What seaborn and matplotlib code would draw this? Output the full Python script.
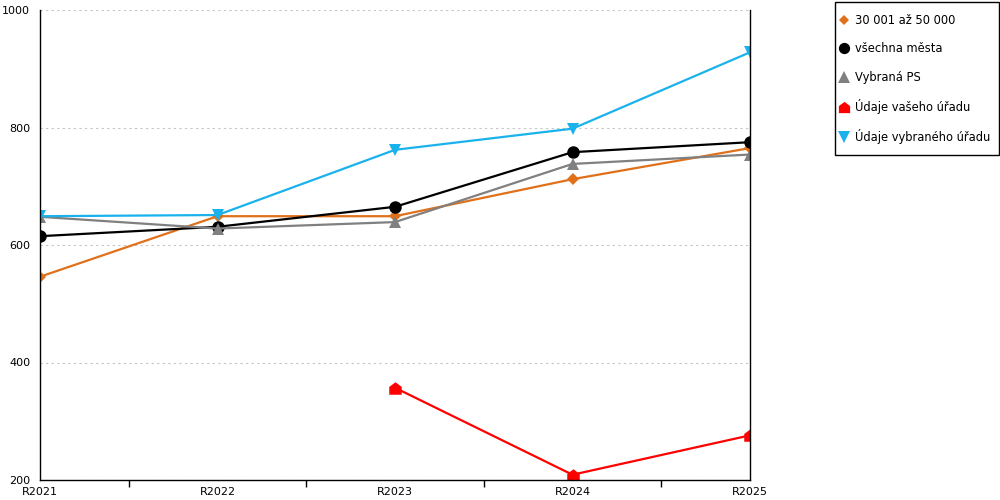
import matplotlib
matplotlib.use("Agg")
import matplotlib.pyplot as plt
import seaborn as sns
import pandas as pd
import numpy as np
from matplotlib.lines import Line2D
from matplotlib.path import Path
from matplotlib.patches import Rectangle

years = ["R2021", "R2022", "R2023", "R2024", "R2025"]
s_orange = [546, 649, 649, 712, 765]
s_black = [615, 631, 665, 758, 775]
s_gray = [648, 628, 639, 738, 754]
s_red = [np.nan, np.nan, 357, 209, 276]
s_blue = [649, 651, 762, 798, 928]

names = ["30 001 až 50 000", "všechna města", "Vybraná PS",
         "Údaje vašeho úřadu", "Údaje vybraného úřadu"]
series = [s_orange, s_black, s_gray, s_red, s_blue]
colors = ["#E0701A", "#000000", "#808080", "#FF0000", "#1AB2EC"]

house = Path([(-1, -1), (1, -1), (1, 0.25), (0, 1), (-1, 0.25), (-1, -1)],
             [Path.MOVETO, Path.LINETO, Path.LINETO, Path.LINETO, Path.LINETO, Path.CLOSEPOLY])
markers = ["D", "o", "^", house, "v"]
msizes = [6, 9, 9, 9, 9]

rows = []
for n, s in zip(names, series):
    for y, v in zip(years, s):
        rows.append({"rok": y, "hodnota": v, "serie": n})
df = pd.DataFrame(rows)

sns.set_theme(style="white")
plt.rcParams['font.family'] = ['DejaVu Sans']

fig = plt.figure(figsize=(10, 5), dpi=100)
ax = fig.add_axes([0.04, 0.04, 0.71, 0.94])

for n, c, m, ms in zip(names, colors, markers, msizes):
    d = df[df["serie"] == n].dropna()
    sns.lineplot(data=d, x="rok", y="hodnota", ax=ax, color=c, marker=m,
                 markersize=ms, markeredgewidth=0, linewidth=1.6,
                 sort=False, legend=False)

ax.set_xlim(0, 4)
ax.set_ylim(200, 1000)
ax.set_yticks([200, 400, 600, 800, 1000])
ax.set_xticks(range(5))
ax.set_xticklabels(years)
ax.set_xticks([0.5, 1.5, 2.5, 3.5], minor=True)
ax.set_xlabel("")
ax.set_ylabel("")
ax.grid(axis="y", color="#C4C4C4", linestyle=(0, (2, 3)), linewidth=0.8)
ax.grid(axis="x", visible=False)
ax.set_axisbelow(True)

for sp in ["left", "bottom", "right"]:
    ax.spines[sp].set_visible(True)
    ax.spines[sp].set_color("black")
    ax.spines[sp].set_linewidth(1.0)
ax.spines["top"].set_visible(False)

ax.tick_params(axis="both", which="both", direction="out", color="black",
               labelsize=8, colors="black")
ax.tick_params(axis="y", length=6, width=1, pad=1)
ax.tick_params(axis="x", which="major", length=5, width=1, pad=0)
ax.tick_params(axis="x", which="minor", length=5, width=1, bottom=True)

# legend frame
fig.patches.append(Rectangle((0.8345, 0.69), 0.164, 0.307, transform=fig.transFigure,
                             fill=False, edgecolor="black", linewidth=1.0))

handles = [Line2D([], [], linestyle="none", marker=m, color=c,
                  markersize=ms * 0.9, markeredgewidth=0)
           for m, c, ms in zip(markers, colors, msizes)]
leg = fig.legend(handles, names, loc="upper left", bbox_to_anchor=(0.841, 0.972),
                 frameon=False, fontsize=8.3, labelcolor="black",
                 handlelength=0.6, handletextpad=0.6, labelspacing=1.33,
                 borderpad=0, borderaxespad=0)

fig.savefig("out.png", dpi=100)
